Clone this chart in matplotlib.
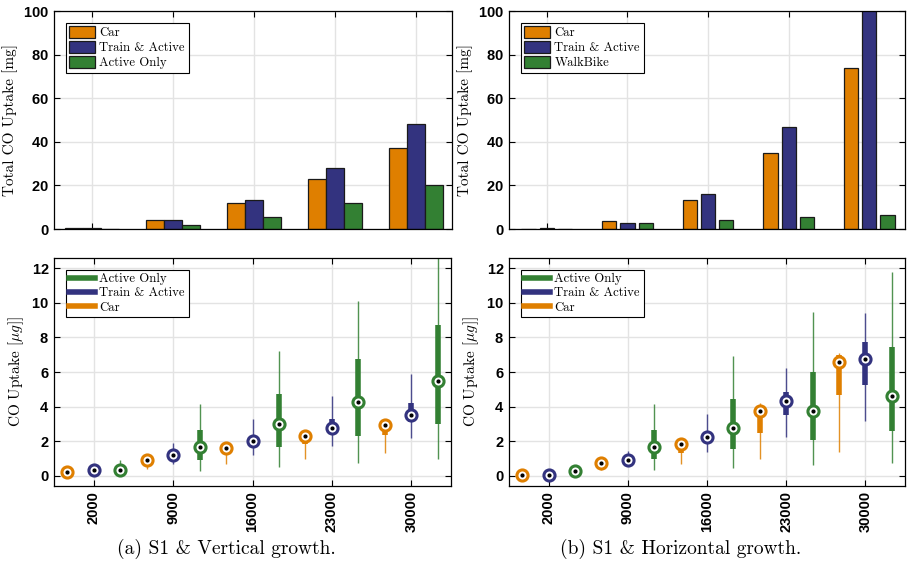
import matplotlib
matplotlib.use("Agg")
import matplotlib.pyplot as plt
import numpy as np
from matplotlib.patches import Patch
from matplotlib.lines import Line2D

# ---------------- data ----------------
group_labels = ["2000", "9000", "16000", "23000", "30000"]

# top panels: total CO uptake [mg]
a_car = [0.5, 4.3, 12.1, 23.1, 37.3]
a_train = [0.4, 4.1, 13.3, 28.0, 48.0]
a_active = [0.1, 1.8, 5.7, 11.8, 20.3]

b_car = [0.05, 3.5, 13.3, 35.0, 74.0]
b_train = [0.4, 2.9, 16.0, 46.6, 110.0]
b_walkbike = [0.05, 2.6, 4.1, 5.5, 6.6]

# bottom panels: per group (car, train, active) -> [whisker_lo, q1, median, q3, whisker_hi]
a_box_car = [[0.12, 0.18, 0.23, 0.30, 0.38], [0.40, 0.72, 0.92, 1.05, 1.12],
             [0.69, 1.30, 1.62, 1.75, 1.80], [0.98, 1.81, 2.27, 2.50, 2.60],
             [1.29, 2.35, 2.91, 3.20, 3.29]]
a_box_train = [[0.18, 0.25, 0.31, 0.38, 0.45], [0.67, 1.00, 1.18, 1.35, 1.90],
               [1.21, 1.85, 2.00, 2.30, 3.28], [1.70, 2.50, 2.76, 3.26, 4.60],
               [2.16, 3.10, 3.51, 4.20, 5.90]]
a_box_active = [[0.08, 0.20, 0.35, 0.50, 0.90], [0.27, 0.92, 1.66, 2.66, 4.16],
                [0.50, 1.64, 2.97, 4.70, 7.20], [0.73, 2.31, 4.26, 6.74, 10.13],
                [0.94, 2.97, 5.49, 8.71, 13.50]]

b_box_car = [[0.01, 0.03, 0.06, 0.10, 0.15], [0.35, 0.60, 0.71, 0.80, 0.85],
             [0.66, 1.29, 1.86, 1.95, 2.00], [0.99, 2.49, 3.75, 4.02, 4.20],
             [1.35, 4.66, 6.57, 7.01, 7.09]]
b_box_train = [[0.00, 0.01, 0.02, 0.04, 0.06], [0.60, 0.80, 0.89, 1.00, 1.45],
               [1.35, 2.10, 2.24, 2.45, 3.56], [2.22, 3.50, 4.31, 4.85, 6.26],
               [3.15, 5.26, 6.76, 7.75, 9.43]]
b_box_active = [[0.10, 0.18, 0.27, 0.35, 0.45], [0.31, 0.95, 1.66, 2.65, 4.12],
                [0.44, 1.55, 2.74, 4.41, 6.90], [0.64, 2.09, 3.73, 6.01, 9.47],
                [0.75, 2.61, 4.60, 7.46, 11.81]]

# ---------------- style ----------------
C_CAR = "#DF7F00"
C_TRAIN = "#33337F"
C_ACT = "#338033"
SERIF = "cmr10"
plt.rcParams["mathtext.fontset"] = "cm"
plt.rcParams["axes.formatter.use_mathtext"] = True

fig = plt.figure(figsize=(9.08, 5.62), dpi=100)
W, H = 908.0, 562.0


def ax_px(x0, y0, x1, y1):
    return fig.add_axes([x0 / W, 1 - y1 / H, (x1 - x0) / W, (y1 - y0) / H])


def style(ax):
    ax.tick_params(direction="in", top=True, right=True, length=4, width=0.8,
                   labelsize=10.5)
    for lab in ax.get_yticklabels() + ax.get_xticklabels():
        lab.set_fontfamily("Liberation Sans")
        lab.set_fontweight("bold")
    ax.grid(True, color="#e3e3e3", linewidth=1.0)
    ax.set_axisbelow(True)
    for s in ax.spines.values():
        s.set_linewidth(0.9)
        s.set_color("black")


tick_pos = np.arange(len(group_labels)) * 3 + 2

LEG_KW = dict(loc="upper left", prop={"family": SERIF, "size": 9.2}, fancybox=False,
              edgecolor="black", framealpha=1, handlelength=2.0, borderaxespad=0.9,
              labelspacing=0.15, handletextpad=0.35, borderpad=0.3)


def draw_bars(ax, series, colors, width, offset, names):
    handles = []
    for i, (vals, c) in enumerate(zip(series, colors)):
        x = tick_pos + (i - 1) * offset
        ax.bar(x, vals, width=width, color=c, edgecolor="#1a1a1a", linewidth=0.9, zorder=2)
        handles.append(Patch(facecolor=c, edgecolor="#1a1a1a", linewidth=0.9))
    ax.set_ylim(0, 100)
    ax.set_xlim(0.59, 15.33)
    ax.set_yticks(np.arange(0, 101, 20))
    ax.set_xticks(tick_pos)
    ax.set_xticklabels([])
    ax.set_ylabel("Total CO Uptake [mg]", fontfamily=SERIF, fontsize=11)
    style(ax)
    leg = ax.legend(handles, names, handleheight=1.0, **LEG_KW)
    leg.get_frame().set_linewidth(0.8)


def draw_boxes(ax, groups):
    # groups: list of (data, color) in order car, train, active
    for g in range(len(group_labels)):
        for k, (data, c) in enumerate(groups):
            lo, q1, med, q3, hi = data[g]
            x = g * 3 + 1 + k
            ax.plot([x, x], [lo, hi], color=c, linewidth=1.0, alpha=0.85, zorder=2,
                    solid_capstyle="butt")
            ax.plot([x, x], [q1, q3], color=c, linewidth=4.0, zorder=3, solid_capstyle="butt")
            ax.plot([x], [med], marker="o", markersize=8, markerfacecolor="white",
                    markeredgecolor=c, markeredgewidth=2.2, zorder=4)
            ax.plot([x], [med], marker="o", markersize=2.0, color="black", zorder=5)
    ax.set_xlim(0.5, 15.5)
    ax.set_ylim(-0.6, 12.6)
    ax.set_yticks(np.arange(0, 13, 2))
    ax.set_xticks(tick_pos)
    ax.set_xticklabels(group_labels, rotation=90)
    ax.set_ylabel(r"CO Uptake [$\mu g$]]", fontfamily=SERIF, fontsize=11)
    style(ax)
    handles = [Line2D([], [], color=C_ACT, linewidth=4),
               Line2D([], [], color=C_TRAIN, linewidth=4),
               Line2D([], [], color=C_CAR, linewidth=4)]
    leg = ax.legend(handles, ["Active Only", "Train & Active", "Car"], **LEG_KW)
    leg.get_frame().set_linewidth(0.8)


ax1 = ax_px(54, 11, 452, 229)
draw_bars(ax1, [a_car, a_train, a_active], [C_CAR, C_TRAIN, C_ACT], 0.67, 0.67,
          ["Car", "Train & Active", "Active Only"])
ax2 = ax_px(509, 11, 905, 229)
draw_bars(ax2, [b_car, b_train, b_walkbike], [C_CAR, C_TRAIN, C_ACT], 0.53, 0.68,
          ["Car", "Train & Active", "WalkBike"])

ax3 = ax_px(54, 258, 451, 486)
draw_boxes(ax3, [(a_box_car, C_CAR), (a_box_train, C_TRAIN), (a_box_active, C_ACT)])
ax4 = ax_px(509, 258, 905, 486)
draw_boxes(ax4, [(b_box_car, C_CAR), (b_box_train, C_TRAIN), (b_box_active, C_ACT)])

fig.text(226 / W, 1 - 549 / H, "(a) S1 & Vertical growth.", ha="center", va="center",
         fontfamily=SERIF, fontsize=14)
fig.text(681 / W, 1 - 549 / H, "(b) S1 & Horizontal growth.", ha="center", va="center",
         fontfamily=SERIF, fontsize=14)

fig.savefig("out.png", dpi=100)
